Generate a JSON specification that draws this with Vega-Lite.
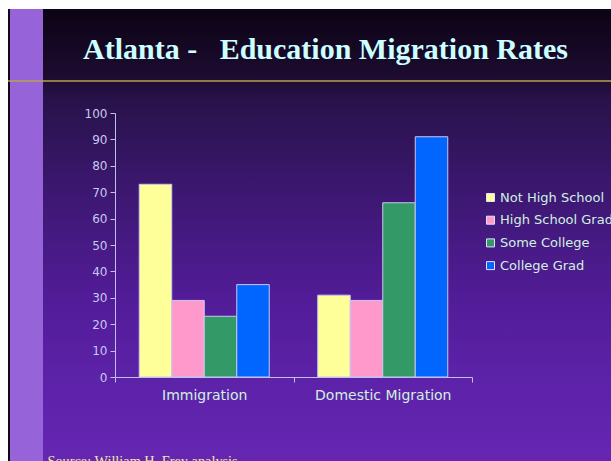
{
  "$schema": "https://vega.github.io/schema/vega-lite/v6.json",
  "width": 603,
  "height": 452,
  "autosize": {"type": "none"},
  "padding": {"left": 8, "top": 9, "right": 0, "bottom": 0},
  "background": "white",
  "config": {"view": {"stroke": null}},
  "title": {
    "text": "Atlanta -\u00a0\u00a0\u00a0Education Migration Rates",
    "font": "Liberation Serif",
    "fontSize": 30,
    "fontWeight": "bold",
    "color": "#ccffff",
    "anchor": "start",
    "frame": "group",
    "dx": 75,
    "offset": -80,
    "baseline": "alphabetic"
  },
  "layer": [
    {
      "data": {"values": [{}]},
      "mark": {
        "type": "rect",
        "color": {
          "gradient": "linear",
          "x1": 0, "y1": 0, "x2": 0, "y2": 1,
          "stops": [
            {"offset": 0, "color": "#0c0314"},
            {"offset": 0.157, "color": "#1e0c32"},
            {"offset": 0.2, "color": "#28124a"},
            {"offset": 0.42, "color": "#3e1874"},
            {"offset": 0.644, "color": "#521c98"},
            {"offset": 0.814, "color": "#5c22a8"},
            {"offset": 1, "color": "#6626b2"}
          ]
        }
      },
      "encoding": {}
    },
    {
      "data": {"values": [{}]},
      "mark": {
        "type": "rect",
        "color": {
          "gradient": "linear",
          "x1": 0, "y1": 0, "x2": 1, "y2": 0,
          "stops": [
            {"offset": 0, "color": "#140818"},
            {"offset": 0.0033, "color": "#140818"},
            {"offset": 0.0034, "color": "#9664d8"},
            {"offset": 0.058, "color": "#9664d8"},
            {"offset": 0.0581, "color": "rgba(0,0,0,0)"},
            {"offset": 1, "color": "rgba(0,0,0,0)"}
          ]
        }
      },
      "encoding": {}
    },
    {
      "data": {"values": [{}]},
      "mark": {"type": "rule", "color": "#b8a050", "strokeWidth": 1.5},
      "encoding": {"y": {"datum": 112.1, "type": "quantitative"}}
    },
    {
      "data": {
        "values": [
          {"type": "Immigration", "level": "Not High School", "rate": 73},
          {"type": "Immigration", "level": "High School Grad", "rate": 29},
          {"type": "Immigration", "level": "Some College", "rate": 23},
          {"type": "Immigration", "level": "College Grad", "rate": 35},
          {"type": "Domestic Migration", "level": "Not High School", "rate": 31},
          {"type": "Domestic Migration", "level": "High School Grad", "rate": 29},
          {"type": "Domestic Migration", "level": "Some College", "rate": 66},
          {"type": "Domestic Migration", "level": "College Grad", "rate": 91}
        ]
      },
      "mark": {"type": "bar", "stroke": "#c8c8f0", "strokeWidth": 1},
      "encoding": {
        "x": {
          "field": "type",
          "type": "nominal",
          "sort": ["Immigration", "Domestic Migration"],
          "scale": {"range": [107, 464], "paddingInner": 0, "paddingOuter": 0},
          "axis": {
            "orient": "bottom",
            "offset": -84,
            "zindex": 2,
            "tickBand": "extent",
            "tickSize": 5,
            "tickColor": "#c0c0ee",
            "domainColor": "#c0c0ee",
            "labelColor": "#d0f0e0",
            "labelFont": "DejaVu Sans",
            "labelFontSize": 14,
            "labelPadding": 6,
            "labelAngle": 0,
            "grid": false,
            "title": "Source: William H. Frey analysis",
            "titleFont": "Liberation Serif",
            "titleFontSize": 14.3,
            "titleFontWeight": "normal",
            "titleColor": "#f0e8a8",
            "titleX": 39,
            "titleY": 88,
            "titleAlign": "left",
            "titleAnchor": "start",
            "titleBaseline": "alphabetic"
          }
        },
        "xOffset": {
          "field": "level",
          "sort": ["Not High School", "High School Grad", "Some College", "College Grad"],
          "scale": {"paddingInner": 0, "paddingOuter": 0.746}
        },
        "y": {
          "field": "rate",
          "type": "quantitative",
          "scale": {"domain": [0, 100], "range": [368, 104]},
          "axis": {
            "orient": "left",
            "offset": -107,
            "zindex": 2,
            "values": [0, 10, 20, 30, 40, 50, 60, 70, 80, 90, 100],
            "tickSize": 5,
            "tickColor": "#c0c0ee",
            "domainColor": "#c0c0ee",
            "labelColor": "#c8c8f0",
            "labelFont": "DejaVu Sans",
            "labelFontSize": 12,
            "labelPadding": 3,
            "grid": false,
            "title": null
          }
        },
        "color": {
          "field": "level",
          "type": "nominal",
          "sort": ["Not High School", "High School Grad", "Some College", "College Grad"],
          "scale": {"range": ["#ffff99", "#ff99cc", "#339966", "#0066ff"]},
          "legend": {
            "orient": "none",
            "legendX": 476,
            "legendY": 182,
            "zindex": 2,
            "title": null,
            "padding": 0,
            "symbolType": "square",
            "symbolSize": 64,
            "symbolStrokeColor": "#e0e0ff",
            "symbolStrokeWidth": 1,
            "symbolOpacity": 1,
            "labelFont": "DejaVu Sans",
            "labelFontSize": 13,
            "labelColor": "#d0f0e0",
            "labelOffset": 3,
            "labelLimit": 0,
            "rowPadding": 8.7
          }
        }
      }
    }
  ]
}
